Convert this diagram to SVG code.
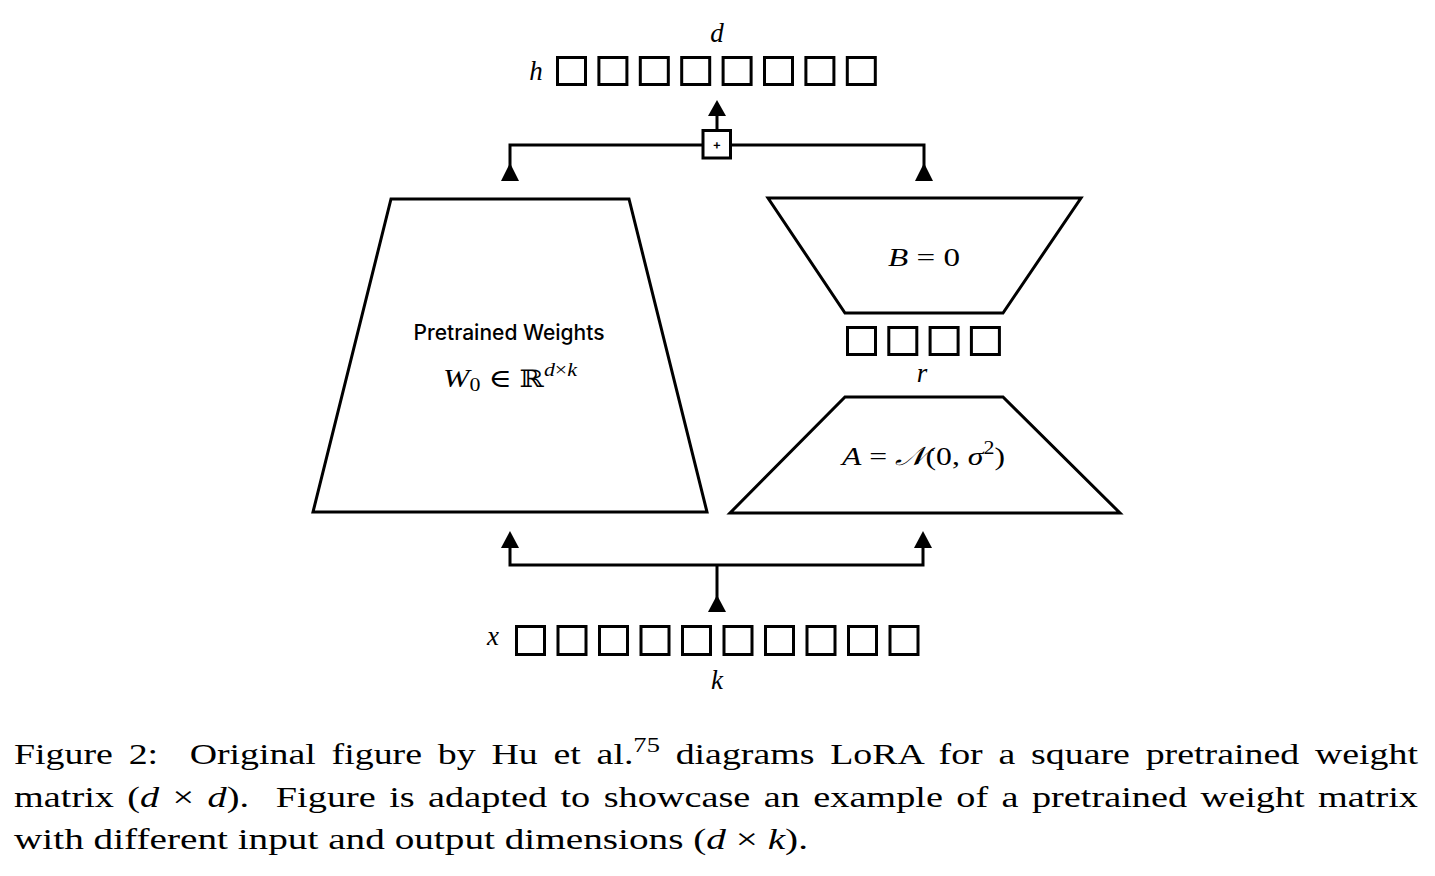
<svg xmlns="http://www.w3.org/2000/svg" width="1435" height="876" viewBox="0 0 1435 876">
<style>
.sq{fill:#fff;stroke:#000;stroke-width:3}
.shape{fill:#fff;stroke:#000;stroke-width:3;stroke-linejoin:miter}
.ln{fill:none;stroke:#000;stroke-width:3}
.ah{fill:#000;stroke:none}
.math{font-family:"Liberation Serif","DejaVu Serif",serif;fill:#000}
.it{font-style:italic}
.lbl{font-family:Inter,"Open Sans",sans-serif;font-weight:500;fill:#000}
.cap{font-family:"Liberation Serif","DejaVu Serif",serif;font-size:30px;fill:#000}
</style>
<rect width="1435" height="876" fill="#fff"/>

<g id="output-h">
  <text class="math it" x="536" y="80" font-size="27" text-anchor="middle">h</text>
  <text class="math it" x="717" y="42" font-size="27" text-anchor="middle">d</text>
  <rect class="sq" x="557.5" y="57.5" width="28" height="27"/>
  <rect class="sq" x="598.9" y="57.5" width="28" height="27"/>
  <rect class="sq" x="640.3" y="57.5" width="28" height="27"/>
  <rect class="sq" x="681.7" y="57.5" width="28" height="27"/>
  <rect class="sq" x="723.1" y="57.5" width="28" height="27"/>
  <rect class="sq" x="764.5" y="57.5" width="28" height="27"/>
  <rect class="sq" x="805.9" y="57.5" width="28" height="27"/>
  <rect class="sq" x="847.3" y="57.5" width="28" height="27"/>
</g>

<g id="connectors">
  <polyline class="ln" points="510,170 510,145 924,145 924,170"/>
  <polygon class="ah" points="510,163 501,181 519,181"/>
  <polygon class="ah" points="924,163 915,181 933,181"/>
  <line class="ln" x1="717" y1="131" x2="717" y2="112"/>
  <polygon class="ah" points="717,100 708,116 726,116"/>
  <polyline class="ln" points="510,540 510,565 923,565 923,540"/>
  <polygon class="ah" points="510,531 501,548 519,548"/>
  <polygon class="ah" points="923,531 914,548 932,548"/>
  <line class="ln" x1="717" y1="565" x2="717" y2="605"/>
  <polygon class="ah" points="717,595 708,612 726,612"/>
</g>

<g id="plus">
  <rect class="sq" x="703" y="130.5" width="27.5" height="27.5" stroke-width="2.5"/>
  <text x="716.8" y="149" font-family="Inter,'DejaVu Sans',sans-serif" font-size="13" font-weight="600" text-anchor="middle">+</text>
</g>

<g id="pretrained">
  <polygon class="shape" points="391,199 629,199 707,512 313,512"/>
  <text class="lbl" x="509" y="340" font-size="21" text-anchor="middle">Pretrained Weights</text>
  <text class="math" x="443" y="387" font-size="26" textLength="134" lengthAdjust="spacingAndGlyphs"><tspan class="it">W</tspan><tspan font-size="18" dy="4">0</tspan><tspan dy="-4"> ∈ </tspan><tspan font-family="'DejaVu Serif',serif" font-size="24">ℝ</tspan><tspan class="it" font-size="18" dy="-11">d</tspan><tspan font-size="18">×</tspan><tspan class="it" font-size="18">k</tspan></text>
</g>

<g id="B">
  <polygon class="shape" points="768,198 1081,198 1003,313 845,313"/>
  <text class="math" x="888" y="266" font-size="26" textLength="72" lengthAdjust="spacingAndGlyphs"><tspan class="it">B</tspan> = 0</text>
</g>

<g id="rank-r">
  <rect class="sq" x="847.5" y="327.5" width="28" height="27"/>
  <rect class="sq" x="888.8" y="327.5" width="28" height="27"/>
  <rect class="sq" x="930.1" y="327.5" width="28" height="27"/>
  <rect class="sq" x="971.4" y="327.5" width="28" height="27"/>
  <text class="math it" x="922" y="382" font-size="27" text-anchor="middle">r</text>
</g>

<g id="A">
  <polygon class="shape" points="845,397 1003,397 1120,513 730,513"/>
  <text class="math" x="842" y="465" font-size="26" textLength="163" lengthAdjust="spacingAndGlyphs"><tspan class="it">A</tspan> = <tspan font-family="'DejaVu Serif','Noto Sans',serif" class="it">𝒩</tspan>(0, <tspan class="it">σ</tspan><tspan font-size="18" dy="-11">2</tspan><tspan dy="11">)</tspan></text>
</g>

<g id="input-x">
  <text class="math it" x="493" y="645" font-size="27" text-anchor="middle">x</text>
  <text class="math it" x="717" y="689" font-size="27" text-anchor="middle">k</text>
  <rect class="sq" x="516.5" y="626.5" width="28" height="28"/>
  <rect class="sq" x="558" y="626.5" width="28" height="28"/>
  <rect class="sq" x="599.5" y="626.5" width="28" height="28"/>
  <rect class="sq" x="641" y="626.5" width="28" height="28"/>
  <rect class="sq" x="682.5" y="626.5" width="28" height="28"/>
  <rect class="sq" x="724" y="626.5" width="28" height="28"/>
  <rect class="sq" x="765.5" y="626.5" width="28" height="28"/>
  <rect class="sq" x="807" y="626.5" width="28" height="28"/>
  <rect class="sq" x="848.5" y="626.5" width="28" height="28"/>
  <rect class="sq" x="890" y="626.5" width="28" height="28"/>
</g>

<g id="caption">
  <text class="cap" x="14" y="764" textLength="1404" lengthAdjust="spacingAndGlyphs" word-spacing="5">Figure 2:&#160; Original figure by Hu et al.<tspan font-size="21" dy="-12">75</tspan><tspan dy="12"> diagrams LoRA for a square pretrained weight</tspan></text>
  <text class="cap" x="14" y="807" textLength="1404" lengthAdjust="spacingAndGlyphs" word-spacing="3">matrix (<tspan font-style="italic">d</tspan> × <tspan font-style="italic">d</tspan>).&#160; Figure is adapted to showcase an example of a pretrained weight matrix</text>
  <text class="cap" x="14" y="849" textLength="794" lengthAdjust="spacingAndGlyphs">with different input and output dimensions (<tspan font-style="italic">d</tspan> × <tspan font-style="italic">k</tspan>).</text>
</g>
</svg>
